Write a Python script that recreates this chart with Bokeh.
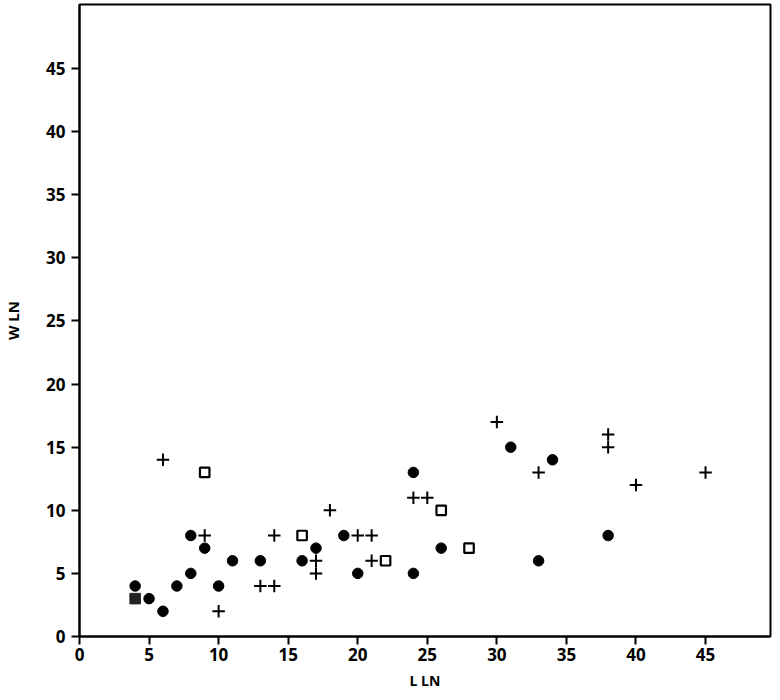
from bokeh.plotting import figure
from bokeh.embed import file_html
from bokeh.resources import INLINE
from bokeh.models import Range1d, FixedTicker

# Filled circles
circ_x = [4, 5, 6, 7, 8, 8, 9, 10, 11, 13, 16, 17, 19, 20, 24, 24, 26, 31, 33, 34, 38]
circ_y = [4, 3, 2, 4, 5, 8, 7, 4, 6, 6, 6, 7, 8, 5, 13, 5, 7, 15, 6, 14, 8]
# Filled square
fsq_x = [4]
fsq_y = [3]
# Open squares
osq_x = [9, 16, 22, 26, 28]
osq_y = [13, 8, 6, 10, 7]
# Plus signs
plus_x = [6, 9, 10, 13, 14, 14, 17, 17, 18, 20, 21, 21, 24, 25, 30, 33, 38, 38, 40, 45]
plus_y = [14, 8, 2, 4, 4, 8, 6, 5, 10, 8, 8, 6, 11, 11, 17, 13, 16, 15, 12, 13]

ticks = [0, 5, 10, 15, 20, 25, 30, 35, 40, 45]

p = figure(width=772, height=692, output_backend="svg", toolbar_location=None,
           x_range=Range1d(0, 49.67), y_range=Range1d(0, 50.07),
           min_border_left=78, min_border_right=2, min_border_top=4, min_border_bottom=56)

p.outline_line_color = "black"
p.outline_line_width = 2
p.xgrid.visible = False
p.ygrid.visible = False
p.background_fill_color = "white"
p.border_fill_color = "white"

for ax in (p.xaxis[0], p.yaxis[0]):
    ax.ticker = FixedTicker(ticks=ticks)
    ax.axis_line_color = "black"
    ax.axis_line_width = 2
    ax.major_tick_line_color = "black"
    ax.major_tick_line_width = 2
    ax.major_tick_out = 8
    ax.major_tick_in = 0
    ax.minor_tick_line_color = None
    ax.major_label_text_font = "Open Sans"
    ax.major_label_text_font_style = "bold"
    ax.major_label_text_font_size = "17px"
    ax.major_label_text_color = "black"
    ax.axis_label_text_font = "Open Sans"
    ax.axis_label_text_font_style = "bold"
    ax.axis_label_text_font_size = "14px"
    ax.axis_label_text_color = "black"

p.xaxis.axis_label = "L LN"
p.yaxis.axis_label = "W LN"
p.yaxis.axis_label_text_font_size = "15px"
p.xaxis.major_label_standoff = 3
p.yaxis.major_label_standoff = 6
p.xaxis.axis_label_standoff = 7
p.yaxis.axis_label_standoff = 20

p.scatter(circ_x, circ_y, marker="circle", size=10.5, fill_color="black", line_color="black")
p.scatter(fsq_x, fsq_y, marker="square", size=10.5, fill_color="#222222", line_color="#222222")
p.scatter(osq_x, osq_y, marker="square", size=9.5, fill_color="white", line_color="black", line_width=2.2)
p.scatter(plus_x, plus_y, marker="cross", size=12.5, line_color="black", line_width=2)

open("out.html", "w").write(file_html(p, INLINE))
